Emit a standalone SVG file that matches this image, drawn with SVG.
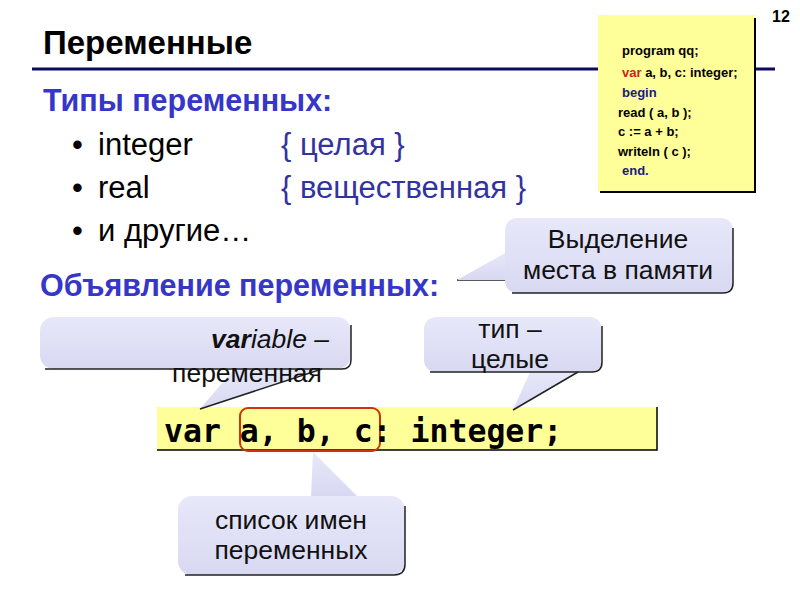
<svg xmlns="http://www.w3.org/2000/svg" width="800" height="600" viewBox="0 0 800 600">
<defs>
<linearGradient id="lav" x1="0" y1="0" x2="0" y2="1">
<stop offset="0" stop-color="#e8e8fa"/>
<stop offset="1" stop-color="#d8d8f2"/>
</linearGradient>
<style>
.sans{font-family:"Liberation Sans",Arial,sans-serif}
.title{font-size:33px;font-weight:bold;fill:#000}
.head{font-size:30.5px;font-weight:bold;fill:#3636c8}
.item{font-size:31px;fill:#000}
.note{font-size:31px;fill:#3333a0}
.code{font-size:13px;font-weight:bold;fill:#000}
.call{font-size:26.5px;fill:#111}
.bubble{fill:url(#lav)}
.edge{fill:none;stroke:#222;stroke-width:1.5}
.mono{font-family:"DejaVu Sans Mono","Liberation Mono",monospace;font-size:31.5px;font-weight:bold;fill:#000}
</style>
</defs>
<rect width="800" height="600" fill="#fff"/>

<g id="header">
<text class="sans title" x="43" y="54">Переменные</text>
<line x1="32" y1="69" x2="775" y2="69" stroke="#0a0a60" stroke-width="3"/>
<text class="sans" x="772" y="22" font-size="16" font-weight="bold">12</text>
</g>

<g id="code-box">
<rect x="598" y="15" width="157" height="177" fill="#ffff99"/>
<polyline points="755,18 755,192 600,192" fill="none" stroke="#000" stroke-width="2"/>
<text class="sans code" x="622" y="55">program qq;</text>
<text class="sans code" x="622" y="77"><tspan fill="#cc2222">var</tspan> a, b, c: integer;</text>
<text class="sans code" x="622" y="97" style="fill:#1a1a80">begin</text>
<text class="sans code" x="618" y="117">read ( a, b );</text>
<text class="sans code" x="618" y="136">c := a + b;</text>
<text class="sans code" x="618" y="156">writeln ( c );</text>
<text class="sans code" x="622" y="175" style="fill:#1a1a80">end.</text>
</g>

<g id="types">
<text class="sans head" x="43" y="111">Типы переменных:</text>
<text class="sans item" x="72" y="155">•</text>
<text class="sans item" x="98" y="155">integer</text>
<text class="sans note" x="281" y="155">{ целая }</text>
<text class="sans item" x="72" y="198">•</text>
<text class="sans item" x="98" y="198">real</text>
<text class="sans note" x="281" y="198">{ вещественная }</text>
<text class="sans item" x="72" y="241">•</text>
<text class="sans item" x="98" y="241">и другие…</text>
</g>

<g id="declaration">
<text class="sans head" x="40" y="296">Объявление переменных:</text>
</g>

<g id="code-line">
<rect x="157" y="407" width="500" height="43" fill="#ffff99"/>
<polyline points="157,450 657,450 657,407" fill="none" stroke="#000" stroke-width="1.5"/>
<rect x="240" y="408" width="140" height="43" rx="8" fill="none" stroke="#cc3311" stroke-width="2"/>
<text class="mono" x="164" y="442">var a, b, c: integer;</text>
</g>

<g id="connectors">
<line x1="457" y1="280" x2="507" y2="280" stroke="#222" stroke-width="1.5"/>
</g>

<g id="callout-memory">
<polygon class="bubble" points="507,252 457,280 507,280"/>
<rect class="bubble" x="505" y="218" width="228" height="75" rx="12"/>
<path class="edge" d="M733,228 V283 Q733,293 723,293 H512"/>
<text class="sans call" x="618" y="248" text-anchor="middle">Выделение</text>
<text class="sans call" x="618" y="279" text-anchor="middle">места в памяти</text>
</g>

<g id="callout-variable">
<polygon class="bubble" points="235,368 200,409 322,368"/>
<rect class="bubble" x="40" y="317" width="311" height="52" rx="14"/>
<path class="edge" d="M351,325 V360 Q351,369 342,369 H45"/>
<line class="edge" x1="200" y1="409" x2="322" y2="369"/>
<text class="sans call" x="329" y="348" text-anchor="end" font-style="italic"><tspan font-weight="bold">var</tspan>iable –</text>
<text class="sans call" x="247" y="382" text-anchor="middle">переменная</text>
</g>

<g id="callout-type">
<polygon class="bubble" points="530,372 513,410 578,372"/>
<rect class="bubble" x="424" y="317" width="178" height="55" rx="12"/>
<path class="edge" d="M602,326 V362 Q602,372 592,372 H430"/>
<line class="edge" x1="513" y1="410" x2="578" y2="372"/>
<text class="sans call" x="510" y="338" text-anchor="middle">тип –</text>
<text class="sans call" x="510" y="368" text-anchor="middle">целые</text>
</g>

<g id="callout-list">
<polygon class="bubble" points="311,497 313,452 358,497"/>
<rect class="bubble" x="178" y="496" width="227" height="79" rx="14"/>
<path class="edge" d="M405,506 V564 Q405,575 394,575 H185"/>
<text class="sans call" x="291" y="529" text-anchor="middle">список имен</text>
<text class="sans call" x="291" y="559" text-anchor="middle">переменных</text>
</g>
</svg>
